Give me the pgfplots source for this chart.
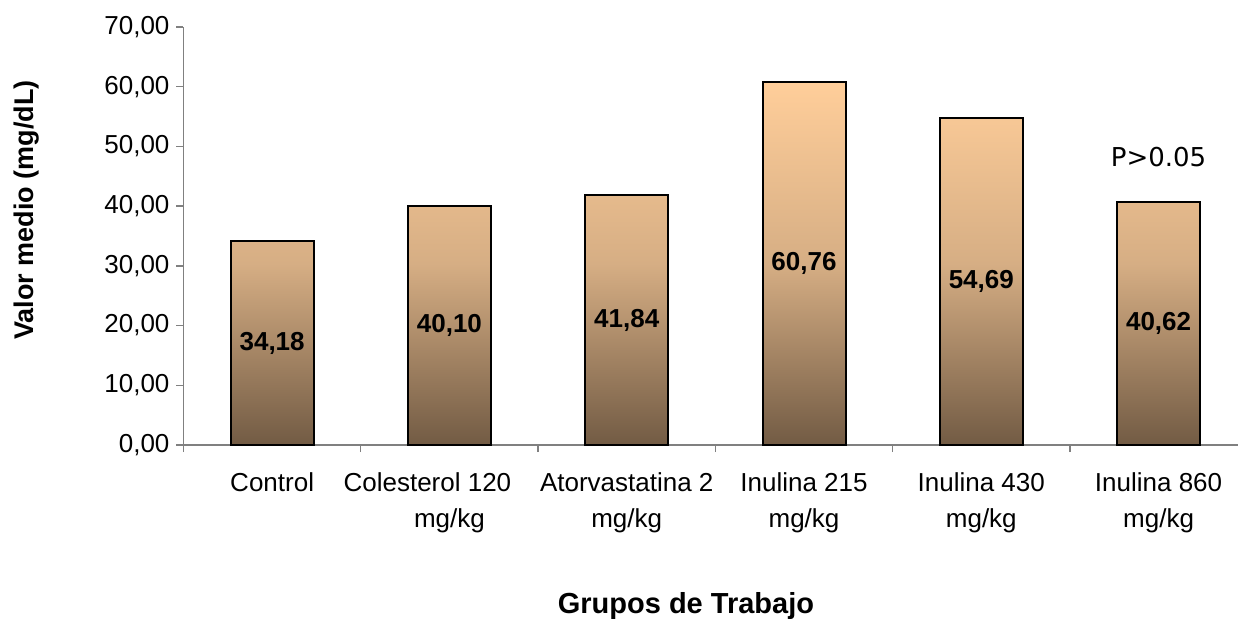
\documentclass[border=0pt]{standalone}
\usepackage{pgfplots}
\pgfplotsset{compat=1.18}
\usepackage{fontspec}
\setmainfont{Liberation Sans}
\newfontfamily\dejavu{DejaVu Sans}
\definecolor{peach}{RGB}{255,206,154}
\definecolor{midtan}{RGB}{214,174,132}
\definecolor{brownd}{RGB}{114,91,68}
\definecolor{axgray}{RGB}{128,128,128}
\begin{document}
\begin{tikzpicture}
\begin{axis}[
  name=ax,
  scale only axis,
  width=527.25pt, height=209pt,
  xmin=-0.5, xmax=5.448,
  ymin=0, ymax=70,
  axis x line*=bottom, axis y line*=left,
  axis line style={axgray, line width=0.7pt},
  tick style={axgray, line width=0.7pt},
  tick align=outside,
  major tick length=3.5pt,
  minor tick length=3.5pt,
  ytick={0,10,...,70},
  yticklabel style={font=\fontsize{13}{15}\selectfont, /pgf/number format/.cd, fixed, fixed zerofill, precision=2, use comma, assume math mode=true},
  xtick={0,1,2,3,4,5},
  minor xtick={-0.5,0.5,1.5,2.5,3.5,4.5},
  major x tick style={draw=none},
  xticklabels={Control, {Colesterol 120\hspace*{22pt}\\mg/kg}, {Atorvastatina 2\\mg/kg}, {Inulina 215\\mg/kg}, {Inulina 430\\mg/kg}, {Inulina 860\\mg/kg}},
  xticklabel style={font=\fontsize{13}{18}\selectfont, align=center, anchor=north, yshift=-7pt},
  xlabel={Grupos de Trabajo},
  xlabel style={at={(axis description cs:0.4765,-0.4019)}, anchor=base, font=\bfseries\fontsize{14.5}{17}\selectfont},
  ylabel={Valor medio (mg/dL)},
  ylabel style={at={(axis description cs:-0.1484,0.5622)}, anchor=center, font=\bfseries\fontsize{13.5}{16}\selectfont},
]
\addplot[ybar, bar width=41.5pt, draw=black, line width=1pt, top color=peach, bottom color=brownd, middle color=midtan,
  visualization depends on={y \as \rawy},
  nodes near coords={\pgfmathprintnumber[fixed,fixed zerofill,precision=2,use comma,assume math mode=true]{\pgfplotspointmeta}},
  nodes near coords style={font=\bfseries\fontsize{13}{15}\selectfont, anchor=center, yshift=-\rawy*1.4929pt, text=black}]
  coordinates {(0,34.18) (1,40.10) (2,41.84) (3,60.76) (4,54.69) (5,40.62)};
\node[font=\dejavu\fontsize{13}{15}\selectfont] at (axis cs:5,48.2) {P>0.05};
\end{axis}
\pgfresetboundingbox
\path[use as bounding box] (ax.south west) ++(-91.75pt,-86.5pt) rectangle ++(619pt,309pt);
\end{tikzpicture}
\end{document}
